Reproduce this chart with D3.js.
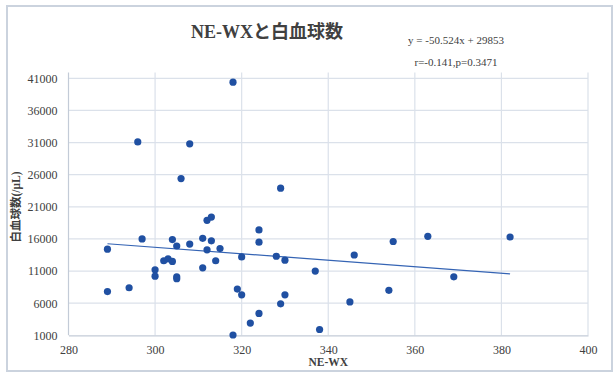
<!DOCTYPE html>
<html>
<head>
<meta charset="utf-8">
<script src="https://cdn.jsdelivr.net/npm/d3@7"></script>
<style>
  body { margin: 0; background: #fff; }
  text { font-family: "Liberation Serif", "DejaVu Serif", "Noto Sans CJK JP", serif; fill: #404040; }
  .cjk { font-family: "Liberation Serif", "Noto Sans CJK JP", serif; }
</style>
</head>
<body>
<div id="chart"></div>
<script>
// NE-WX values and white blood cell counts (/uL)
const neWx = [318, 296, 308, 306, 329, 289, 289, 294, 297, 300, 300, 302, 303, 304, 304,
  305, 305, 305, 308, 311, 311, 312, 312, 313, 313, 314, 315, 319, 318, 320,
  320, 322, 324, 324, 324, 328, 330, 329, 330, 338, 337, 346, 345, 355, 354,
  363, 369, 382];
const wbc = [40400, 31100, 30800, 25400, 23900, 14400, 7800, 8400, 16000, 11200, 10200, 12600, 12900, 15900, 12500,
  14900, 10100, 9800, 15200, 16100, 11500, 14300, 18900, 19400, 15700, 12600, 14500, 8200, 1050, 13200,
  7300, 2900, 17400, 15500, 4400, 13300, 12700, 5900, 7300, 1900, 11000, 13500, 6200, 15600, 8000,
  16400, 10100, 16300];

const xTicks = [280, 300, 320, 340, 360, 380, 400];
const yTicks = [1000, 6000, 11000, 16000, 21000, 26000, 31000, 36000, 41000];

const slope = -50.524;
const intercept = 29853;
const equationLines = ['y = -50.524x + 29853', 'r=-0.141,p=0.3471'];

function drawChart() {
  const width = 615;
  const height = 373;

  let svg = d3.select('#chart').append('svg')
    .attr('width', width)
    .attr('height', height);

  // outer frame
  svg.append('rect')
    .attr('x', 7)
    .attr('y', 6)
    .attr('width', 605)
    .attr('height', 365)
    .attr('fill', '#fff')
    .attr('stroke', '#cbd3de')
    .attr('stroke-width', 2);

  let x = d3.scaleLinear().domain([280, 400]).range([68.5, 588]);
  let y = d3.scaleLinear().domain([1000, 41000]).range([335.3, 78.3]);
  let plotTop = 72.5;

  // grid
  svg.append('g')
    .selectAll('line')
    .data(yTicks.slice(1))
    .enter()
    .append('line')
      .attr('x1', x(280))
      .attr('x2', x(400))
      .attr('y1', d => y(d))
      .attr('y2', d => y(d))
      .attr('stroke', '#dbe1ea')
      .attr('stroke-width', 1.2);

  svg.append('g')
    .selectAll('line')
    .data(xTicks.slice(1))
    .enter()
    .append('line')
      .attr('x1', d => x(d))
      .attr('x2', d => x(d))
      .attr('y1', plotTop)
      .attr('y2', y(1000))
      .attr('stroke', '#dbe1ea')
      .attr('stroke-width', 1.2);

  // axes
  let xAxis = svg.append('g')
    .attr('transform', `translate(0,${y(1000)})`)
    .call(d3.axisBottom(x).tickValues(xTicks).tickFormat(d3.format('d')).tickSize(0).tickPadding(10));
  xAxis.select('.domain').attr('stroke', '#c3cbd7').attr('stroke-width', 1.2);
  xAxis.selectAll('text').attr('font-size', 12).attr('fill', '#404040').attr('font-family', null);

  let yAxis = svg.append('g')
    .attr('transform', `translate(${x(280)},0)`)
    .call(d3.axisLeft(y).tickValues(yTicks).tickFormat(d3.format('d')).tickSize(0).tickPadding(11));
  yAxis.select('.domain')
    .attr('d', `M0,${plotTop}V${y(1000)}`)
    .attr('stroke', '#c3cbd7')
    .attr('stroke-width', 1.2);
  yAxis.selectAll('text').attr('font-size', 12).attr('fill', '#404040').attr('font-family', null);

  // trend line over the data range
  let xMin = d3.min(neWx);
  let xMax = d3.max(neWx);
  svg.append('line')
    .attr('x1', x(xMin))
    .attr('x2', x(xMax))
    .attr('y1', y(slope * xMin + intercept))
    .attr('y2', y(slope * xMax + intercept))
    .attr('stroke', '#3564b4')
    .attr('stroke-width', 1.2);

  // points
  svg.append('g')
    .selectAll('circle')
    .data(d3.zip(neWx, wbc))
    .enter()
    .append('circle')
      .attr('cx', d => x(d[0]))
      .attr('cy', d => y(d[1]))
      .attr('r', 3.6)
      .attr('fill', '#2050a2');

  // titles
  svg.append('text')
    .attr('class', 'cjk')
    .attr('x', 267)
    .attr('y', 38)
    .attr('text-anchor', 'middle')
    .attr('font-size', 18)
    .attr('font-weight', 'bold')
    .text('NE-WXと白血球数');

  svg.selectAll('text.eq')
    .data(equationLines)
    .enter()
    .append('text')
      .attr('class', 'eq')
      .attr('x', 456)
      .attr('y', (d, i) => 44 + i * 22)
      .attr('text-anchor', 'middle')
      .attr('font-size', 11)
      .text(d => d);

  svg.append('text')
    .attr('x', x(340))
    .attr('y', 366)
    .attr('text-anchor', 'middle')
    .attr('font-size', 11.5)
    .attr('font-weight', 'bold')
    .text('NE-WX');

  svg.append('text')
    .attr('class', 'cjk')
    .attr('transform', `translate(20,207) rotate(-90)`)
    .attr('text-anchor', 'middle')
    .attr('font-size', 11.5)
    .attr('font-weight', 'bold')
    .text('白血球数(/μL)');
}

document.addEventListener('DOMContentLoaded', drawChart);
</script>
</body>
</html>
